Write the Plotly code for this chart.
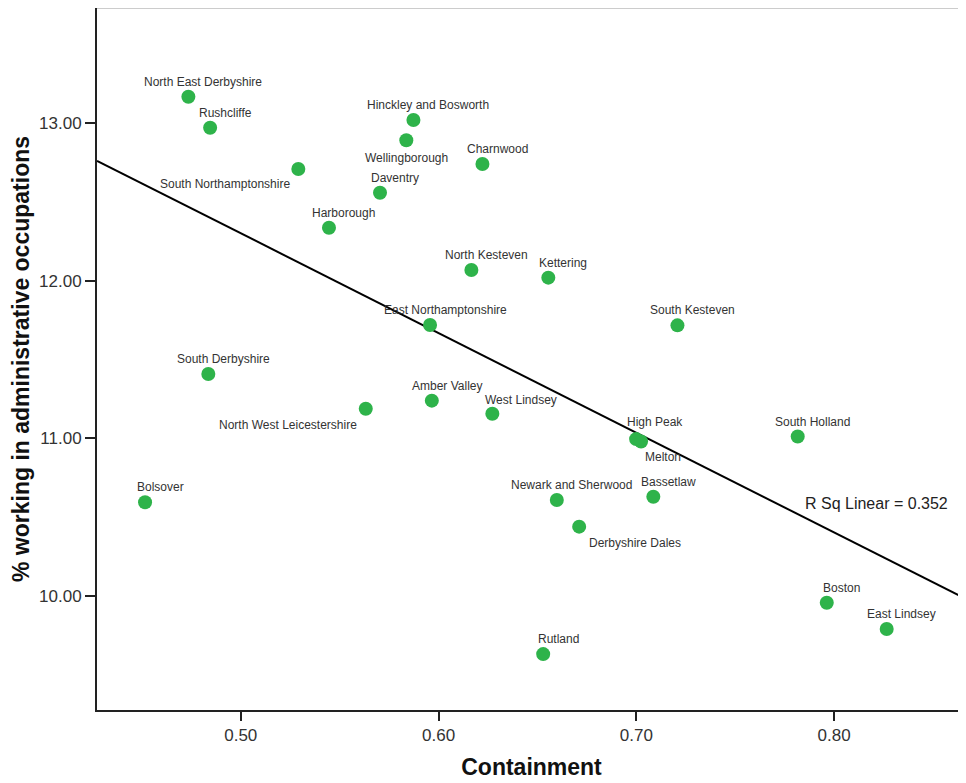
import numpy as np
import plotly.graph_objects as go

districts = [
    "North East Derbyshire", "Rushcliffe", "South Northamptonshire",
    "Hinckley and Bosworth", "Wellingborough", "Charnwood", "Daventry",
    "Harborough", "North Kesteven", "Kettering", "East Northamptonshire",
    "South Kesteven", "South Derbyshire", "North West Leicestershire",
    "Amber Valley", "West Lindsey", "High Peak", "Melton", "South Holland",
    "Bolsover", "Newark and Sherwood", "Bassetlaw", "Derbyshire Dales",
    "Boston", "East Lindsey", "Rutland",
]
containment = [
    0.4735, 0.4845, 0.5291,
    0.5873, 0.5837, 0.6222, 0.5704,
    0.5446, 0.6166, 0.6555, 0.5957,
    0.7208, 0.4836, 0.5632,
    0.5966, 0.6272, 0.6999, 0.7024, 0.7816,
    0.4516, 0.6598, 0.7086, 0.6711,
    0.7963, 0.8266, 0.6529,
]
admin_pct = [
    13.169, 12.972, 12.710,
    13.021, 12.892, 12.742, 12.559,
    12.337, 12.069, 12.020, 11.719,
    11.717, 11.408, 11.188,
    11.239, 11.156, 10.995, 10.980, 11.011,
    10.594, 10.608, 10.629, 10.439,
    9.956, 9.789, 9.630,
]
r_sq_linear = 0.352

# label offsets in px from the dot centre (dx right, dy down)
default_offset = (15, -15)
label_offsets = {
    "South Northamptonshire": (-73, 15),
    "Wellingborough": (0, 18),
    "North West Leicestershire": (-78, 16),
    "West Lindsey": (29, -14),
    "High Peak": (19, -17),
    "Melton": (22, 16),
    "Derbyshire Dales": (56, 16),
}

x_range = [0.4273, 0.8667]
y_range = [9.275, 13.732]
green = "#2eb34a"
axis_col = "#222222"
font_family = "Liberation Sans, Arial, sans-serif"

slope, intercept = np.polyfit(containment, admin_pct, 1)
x_fit = np.array(x_range)
y_fit = slope * x_fit + intercept

fig = go.Figure()

fig.add_trace(
    go.Scatter(
        x=x_fit,
        y=y_fit,
        mode="lines",
        line=dict(color="black", width=2),
        hoverinfo="skip",
        showlegend=False
    )
)

fig.add_trace(
    go.Scatter(
        x=containment,
        y=admin_pct,
        mode="markers",
        text=districts,
        marker=dict(color=green, size=14, line=dict(width=0)),
        showlegend=False
    )
)

for name, cx, cy in zip(districts, containment, admin_pct):
    dx, dy = label_offsets.get(name, default_offset)
    fig.add_annotation(
        x=cx, y=cy, text=name, showarrow=False,
        xshift=dx, yshift=-dy,
        font=dict(family=font_family, size=12, color="#333333")
    )

fig.add_annotation(
    x=0.8212, y=10.583, xref="x", yref="y",
    text=f"R Sq Linear = {r_sq_linear:.3f}",
    showarrow=False,
    font=dict(family=font_family, size=16, color="#222222")
)

fig.add_shape(
    type="line", xref="paper", yref="paper",
    x0=0, x1=1, y0=1, y1=1,
    line=dict(color="#999999", width=1)
)

# page body has an 8px margin, so the figure is sized to end at the window edge
fig.update_layout(
    width=958,
    height=775,
    margin=dict(l=89, r=0, t=0, b=73),
    plot_bgcolor="white",
    paper_bgcolor="white",
    font=dict(family=font_family),
    showlegend=False,
    xaxis=dict(
        range=x_range,
        tickvals=[0.5, 0.6, 0.7, 0.8],
        tickformat=".2f",
        ticks="outside", ticklen=9, tickwidth=2, tickcolor=axis_col,
        showline=True, linecolor=axis_col, linewidth=2,
        showgrid=False, zeroline=False,
        tickfont=dict(size=17, color="#333333"),
        title=dict(
            text="Containment",
            font=dict(size=23, color="#111111", weight="bold"),
            standoff=14
        ),
        automargin=False
    ),
    yaxis=dict(
        range=y_range,
        tickvals=[10, 11, 12, 13],
        tickformat=".2f",
        ticks="outside", ticklen=10, tickwidth=2, tickcolor=axis_col,
        showline=True, linecolor=axis_col, linewidth=2,
        showgrid=False, zeroline=False,
        tickfont=dict(size=17, color="#333333"),
        title=dict(
            text="% working in administrative occupations",
            font=dict(size=23, color="#111111", weight="bold"),
            standoff=8
        ),
        automargin=False
    )
)

fig.write_html("out.html")
